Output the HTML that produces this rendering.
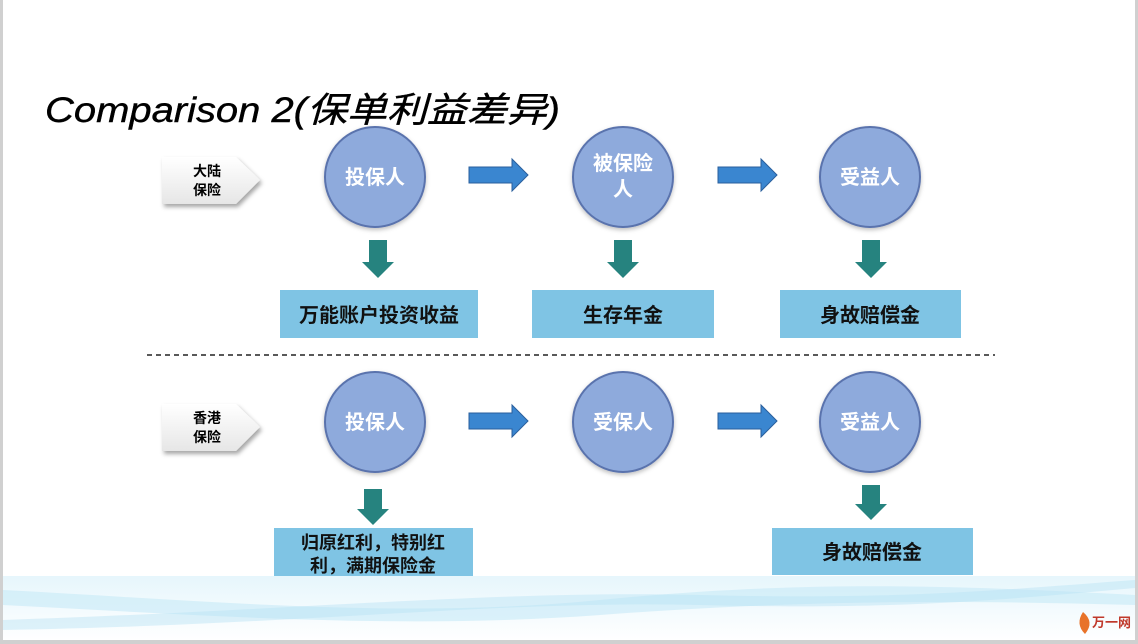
<!DOCTYPE html>
<html><head><meta charset="utf-8"><style>
body{margin:0;width:1138px;height:644px;overflow:hidden;background:#fff;}
svg{display:block}
text{font-family:"Liberation Sans","Noto Sans CJK SC",sans-serif;}
</style></head><body>
<svg width="1138" height="644" viewBox="0 0 1138 644" xmlns="http://www.w3.org/2000/svg">
<defs>
<linearGradient id="tag" x1="0" y1="0" x2="0" y2="1"><stop offset="0" stop-color="#fff"/><stop offset="1" stop-color="#e6e6e6"/></linearGradient>
<linearGradient id="wave" x1="0" y1="0" x2="0" y2="1"><stop offset="0" stop-color="#e6f6fc"/><stop offset="1" stop-color="#ffffff"/></linearGradient>
<filter id="sh" x="-20%" y="-20%" width="150%" height="150%"><feDropShadow dx="2" dy="3" stdDeviation="2" flood-color="#000" flood-opacity="0.35"/></filter>
<filter id="cs" x="-20%" y="-20%" width="140%" height="140%"><feDropShadow dx="0" dy="2" stdDeviation="2" flood-color="#000" flood-opacity="0.25"/></filter>
</defs>
<rect x="0" y="0" width="1138" height="644" fill="#d0d0d0"/>
<rect x="3" y="0" width="1132" height="640" fill="#fff"/>
<!-- wave -->
<path d="M3 576 L1135 576 L1135 640 L3 640 Z" fill="url(#wave)"/>
<path d="M3 590 C200 600 400 620 600 600 C800 580 950 585 1135 595 L1135 605 C950 600 800 600 600 615 C400 630 200 615 3 605 Z" fill="#c6eaf7" opacity="0.6"/>
<path d="M3 620 C300 610 500 590 700 595 C900 600 1000 590 1135 580 L1135 588 C1000 600 900 610 700 605 C500 600 300 625 3 630 Z" fill="#b8e3f5" opacity="0.45"/>
<!-- logo -->
<path d="M1083 612 q-8 12 2 22 q10 -12 -2 -22z" fill="#e8732a"/>
<text x="1092" y="627" font-size="13" font-weight="bold" fill="#c0392b">万一网</text>

<text x="45" y="122" font-size="35" font-style="italic" fill="#000" stroke="#000" stroke-width="0.4" textLength="515" lengthAdjust="spacingAndGlyphs">Comparison 2(保单利益差异)</text>

<!-- row 1 -->
<g filter="url(#sh)"><path d="M162 157 L236 157 L260 180 L236 204 L162 204 Z" fill="url(#tag)"/></g>
<text x="207" y="176" font-size="14" font-weight="bold" text-anchor="middle">大陆</text>
<text x="207" y="195" font-size="14" font-weight="bold" text-anchor="middle">保险</text>

<g fill="#8eaadc" stroke="#5a73ad" stroke-width="2" filter="url(#cs)">
<circle cx="375" cy="177" r="50"/><circle cx="623" cy="177" r="50"/><circle cx="870" cy="177" r="50"/>
<circle cx="375" cy="422" r="50"/><circle cx="623" cy="422" r="50"/><circle cx="870" cy="422" r="50"/>
</g>
<g fill="#fff" font-size="20" font-weight="bold" text-anchor="middle">
<text x="375" y="184">投保人</text>
<text x="623" y="170">被保险</text><text x="623" y="196">人</text>
<text x="870" y="184">受益人</text>
<text x="375" y="429">投保人</text>
<text x="623" y="429">受保人</text>
<text x="870" y="429">受益人</text>
</g>

<g fill="#3a86d0" stroke="#2a5f9c" stroke-width="1">
<path d="M469 167 L512 167 L512 159 L528 175 L512 191 L512 183 L469 183 Z"/>
<path d="M718 167 L761 167 L761 159 L777 175 L761 191 L761 183 L718 183 Z"/>
<path d="M469 413 L512 413 L512 405 L528 421 L512 437 L512 429 L469 429 Z"/>
<path d="M718 413 L761 413 L761 405 L777 421 L761 437 L761 429 L718 429 Z"/>
</g>

<g fill="#26837f">
<path d="M369 240 L387 240 L387 262 L394 262 L378 278 L362 262 L369 262 Z"/>
<path d="M614 240 L632 240 L632 262 L639 262 L623 278 L607 262 L614 262 Z"/>
<path d="M862 240 L880 240 L880 262 L887 262 L871 278 L855 262 L862 262 Z"/>
<path d="M364 489 L382 489 L382 509 L389 509 L373 525 L357 509 L364 509 Z"/>
<path d="M862 485 L880 485 L880 504 L887 504 L871 520 L855 504 L862 504 Z"/>
</g>

<g fill="#7fc4e4">
<rect x="280" y="290" width="198" height="48"/>
<rect x="532" y="290" width="182" height="48"/>
<rect x="780" y="290" width="181" height="48"/>
<rect x="274" y="528" width="199" height="48"/>
<rect x="772" y="528" width="201" height="47"/>
</g>
<g fill="#111" font-size="20" font-weight="bold" text-anchor="middle">
<text x="379" y="322">万能账户投资收益</text>
<text x="623" y="322">生存年金</text>
<text x="870" y="322">身故赔偿金</text>
<text x="373" y="549" font-size="18">归原红利，特别红</text>
<text x="373" y="572" font-size="18">利，满期保险金</text>
<text x="872" y="559">身故赔偿金</text>
</g>

<line x1="147" y1="355" x2="995" y2="355" stroke="#222" stroke-width="1.5" stroke-dasharray="5,4"/>

<g filter="url(#sh)"><path d="M162 404 L236 404 L260 427 L236 451 L162 451 Z" fill="url(#tag)"/></g>
<text x="207" y="423" font-size="14" font-weight="bold" text-anchor="middle">香港</text>
<text x="207" y="442" font-size="14" font-weight="bold" text-anchor="middle">保险</text>
</svg>
</body></html>
